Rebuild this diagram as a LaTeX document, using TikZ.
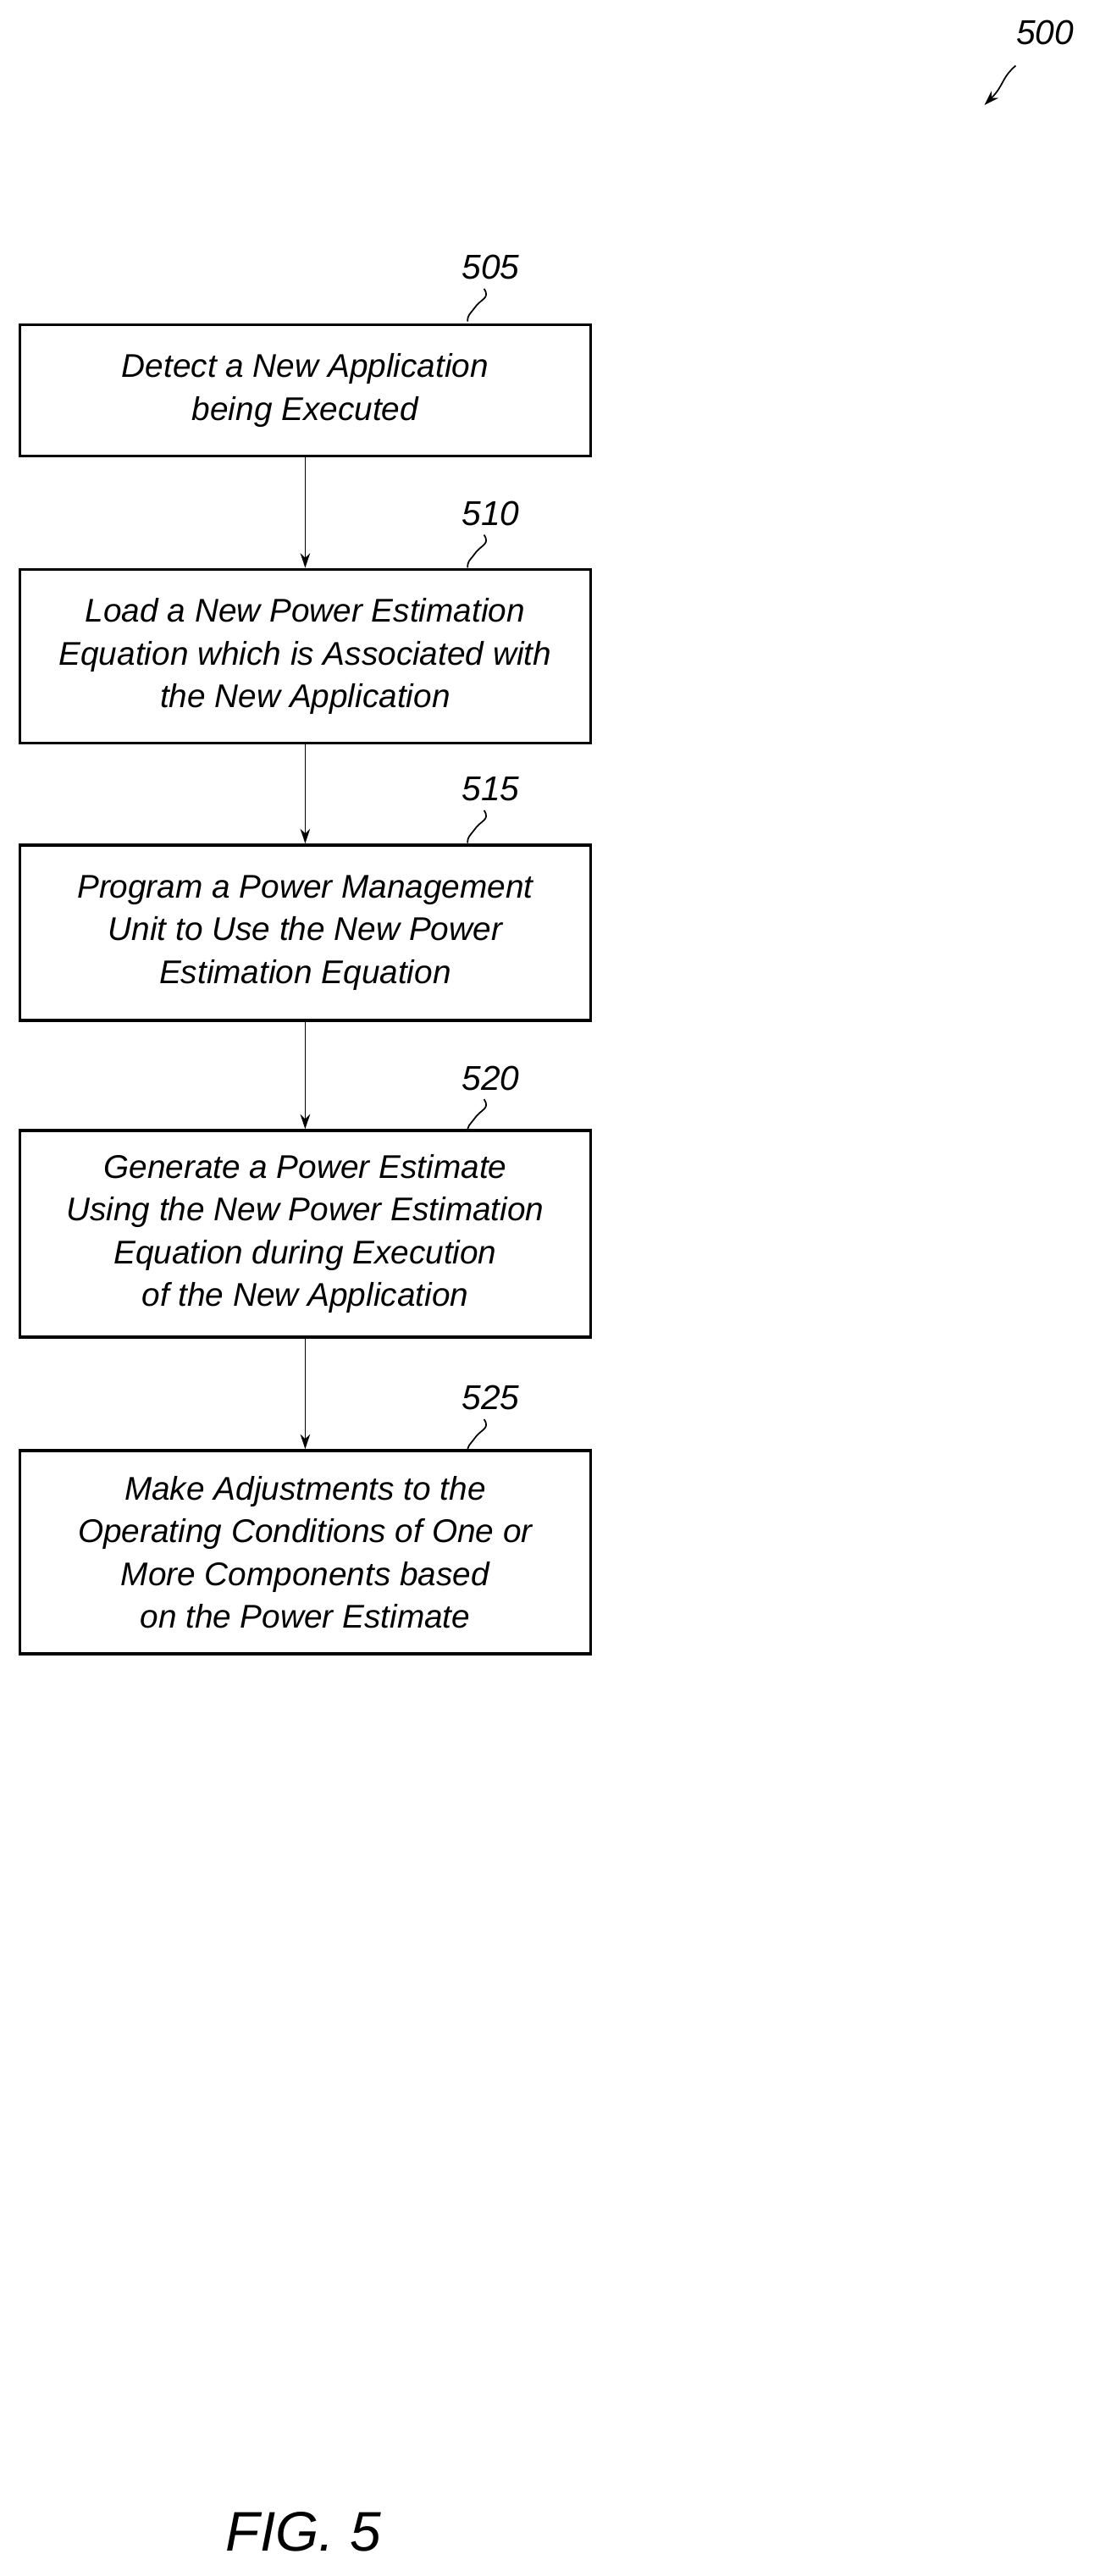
\documentclass[tikz,border=0pt]{standalone}
\usepackage{fontspec}
\setmainfont{Liberation Sans}
\usepackage{tikz}
\usetikzlibrary{arrows.meta}
\begin{document}
\begin{tikzpicture}[x=1pt,y=1pt,
  stepbox/.style={draw,line width=1.8pt,align=center,inner sep=0pt,
    font=\fontsize{20}{26}\selectfont\itshape},
  refnum/.style={font=\fontsize{21}{24}\selectfont\itshape},
  flow/.style={-{Stealth[length=9pt,width=6pt]},line width=0.9pt}]
\useasboundingbox (0,0) rectangle (670,-1570);
\node[stepbox,minimum width=348pt,minimum height=80pt] (s505) at (186,-238) {Detect a New Application\\being Executed};
\node[stepbox,minimum width=348pt,minimum height=106pt] (s510) at (186,-400) {Load a New Power Estimation\\Equation which is Associated with\\the New Application};
\node[stepbox,minimum width=348pt,minimum height=107pt] (s515) at (186,-568.5) {Program a Power Management\\Unit to Use the New Power\\Estimation Equation};
\node[stepbox,minimum width=348pt,minimum height=126pt] (s520) at (186,-752) {Generate a Power Estimate\\Using the New Power Estimation\\Equation during Execution\\of the New Application};
\node[stepbox,minimum width=348pt,minimum height=124pt] (s525) at (186,-946) {Make Adjustments to the\\Operating Conditions of One or\\More Components based\\on the Power Estimate};
% reference numbers
\foreach \n/\y in {505/163,510/313,515/481,520/657,525/852}{
  \node[refnum] (r\n) at (299,-\y) {\n};
  \draw[line width=0.9pt] (r\n.south) ++(-4,-2) .. controls +(4,-6) and +(4,6) .. ++(-6,-12) .. controls +(-3,-4) and +(0,4) .. ++(-4,-8);
}
\draw[flow] (s505) -- (s510);
\draw[flow] (s510) -- (s515);
\draw[flow] (s515) -- (s520);
\draw[flow] (s520) -- (s525);
\node[refnum] (r500) at (637,-20) {500};
\coordinate (p500) at (600,-64);
\draw[flow] (619,-40) .. controls (610,-48) and (612,-52) .. (p500);
\node[font=\fontsize{34}{40}\selectfont\itshape] (fig) at (185,-1543) {FIG. 5};
\end{tikzpicture}
\end{document}
